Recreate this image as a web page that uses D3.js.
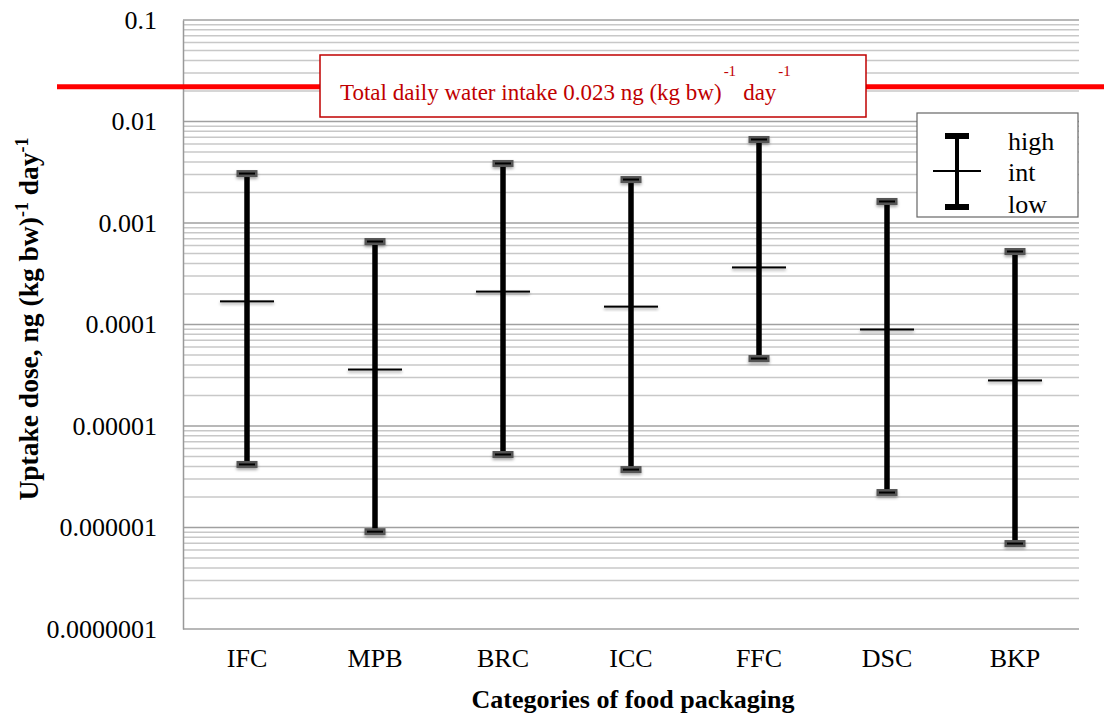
<!DOCTYPE html>
<html><head><meta charset="utf-8">
<script src="https://cdn.jsdelivr.net/npm/d3@7"></script>
<style>body{margin:0;background:#fff}svg{font-family:"Liberation Serif","Times New Roman",serif}</style>
</head><body>
<svg id="c" width="1104" height="718"></svg>
<script>
const categories = ["IFC","MPB","BRC","ICC","FFC","DSC","BKP"];
const highValues = [0.00307,0.000657,0.00386,0.00268,0.00665,0.00163,0.000524];
const intValues  = [0.000169,0.000036,0.000211,0.000150,0.000365,0.0000893,0.0000281];
const lowValues  = [0.00000418,0.00000091,0.00000524,0.00000372,0.0000462,0.00000221,0.000000695];
const tickValues = [1e-7,1e-6,1e-5,1e-4,1e-3,1e-2,1e-1];
const tickLabels = ["0.0000001","0.000001","0.00001","0.0001","0.001","0.01","0.1"];
const referenceValue = 0.023;

const FS = 26;
const svg = d3.select("#c");
const L=183, R=1079, T=20, B=629;
const x = d3.scaleBand().domain(categories).range([L,R]);
const y = d3.scaleLog().domain([1e-7,0.1]).range([B,T]);

const defs = svg.append("defs");
const f = defs.append("filter").attr("id","sh").attr("x","-50%").attr("y","-200%").attr("width","200%").attr("height","500%");
f.append("feDropShadow").attr("dx",0).attr("dy",2).attr("stdDeviation",1.5).attr("flood-color","#000").attr("flood-opacity",0.35);

// gridlines
const g = svg.append("g");
for (let e=-7; e<-1; e++) {
  for (let m=2; m<=9; m++) {
    const v = m*Math.pow(10,e);
    g.append("line").attr("x1",L).attr("x2",R).attr("y1",y(v)).attr("y2",y(v))
      .attr("stroke","#c8c8c8").attr("stroke-width",1.5);
  }
}
tickValues.forEach(v=>{
  g.append("line").attr("x1",L).attr("x2",R).attr("y1",y(v)).attr("y2",y(v))
    .attr("stroke","#a0a0a0").attr("stroke-width",1.5);
});
// left axis
const ya = svg.append("g").attr("transform",`translate(${L},0)`)
  .call(d3.axisLeft(y).tickValues(tickValues).tickFormat((d,i)=>tickLabels[i]).tickSize(0).tickPadding(26));
ya.attr("font-family",null).attr("font-size",FS);
ya.select(".domain").attr("stroke","#999").attr("stroke-width",1.5);
ya.selectAll("text").attr("fill","#000");

// x axis labels
const xa = svg.append("g").attr("transform",`translate(0,${B})`)
  .call(d3.axisBottom(x).tickSize(0).tickPadding(20));
xa.attr("font-family",null).attr("font-size",FS);
xa.select(".domain").remove();
xa.selectAll("text").attr("fill","#000");

// error bars
const cx = d=>x(d)+x.bandwidth()/2;
const bars = svg.append("g").selectAll("g").data(categories).join("g");
bars.append("line")
  .attr("x1",cx).attr("x2",cx)
  .attr("y1",(d,i)=>y(highValues[i])).attr("y2",(d,i)=>y(lowValues[i]))
  .attr("stroke","#000").attr("stroke-width",5.5);
[highValues,lowValues].forEach(arr=>{
  bars.append("rect")
    .attr("x",d=>cx(d)-10.5).attr("y",(d,i)=>y(arr[i])-3.5)
    .attr("width",21).attr("height",7).attr("fill","#555").attr("filter","url(#sh)");
  bars.append("line")
    .attr("x1",d=>cx(d)-8).attr("x2",d=>cx(d)+8)
    .attr("y1",(d,i)=>y(arr[i])).attr("y2",(d,i)=>y(arr[i]))
    .attr("stroke","#000").attr("stroke-width",2);
});
bars.append("rect")
  .attr("x",d=>cx(d)-27).attr("width",54)
  .attr("y",(d,i)=>y(intValues[i])-1).attr("height",2)
  .attr("fill","#000").attr("filter","url(#sh)");

// reference line
const ry = y(referenceValue)+2;
svg.append("line").attr("x1",57).attr("x2",1104).attr("y1",ry).attr("y2",ry)
  .attr("stroke","#ff0000").attr("stroke-width",5);
svg.append("rect").attr("x",320).attr("y",55).attr("width",546).attr("height",62)
  .attr("fill","#fff").attr("stroke","#c00000").attr("stroke-width",1.5);
const rt = svg.append("text").attr("x",340).attr("y",100).attr("font-size",23).attr("fill","#c00000");
rt.append("tspan").text("Total daily water intake 0.023 ng (kg bw)");
rt.append("tspan").attr("dy",-24).attr("dx",2).attr("font-size",15).text("-1");
rt.append("tspan").attr("dy",24).attr("dx",7).text("day");
rt.append("tspan").attr("dy",-24).attr("dx",2).attr("font-size",15).text("-1");

// legend
svg.append("rect").attr("x",917).attr("y",113).attr("width",161).attr("height",104)
  .attr("fill","#fff").attr("stroke","#666").attr("stroke-width",1.2);
const lx = 957;
svg.append("line").attr("x1",lx).attr("x2",lx).attr("y1",136).attr("y2",207).attr("stroke","#000").attr("stroke-width",4);
svg.append("rect").attr("x",lx-12).attr("y",133).attr("width",24).attr("height",6).attr("fill","#000");
svg.append("rect").attr("x",lx-12).attr("y",204).attr("width",24).attr("height",6).attr("fill","#000");
svg.append("line").attr("x1",lx-24).attr("x2",lx+24).attr("y1",171).attr("y2",171).attr("stroke","#000").attr("stroke-width",2);
[["high",150],["int",181],["low",213]].forEach(([t,yy])=>{
  svg.append("text").attr("x",1008).attr("y",yy).attr("font-size",FS).attr("fill","#000").text(t);
});

// axis titles
svg.append("text").attr("x",633).attr("y",708).attr("text-anchor","middle")
  .attr("font-size",FS).attr("font-weight","bold").text("Categories of food packaging");
const yt = svg.append("text").attr("transform","translate(38,319) rotate(-90)").attr("text-anchor","middle")
  .attr("font-size",27.5).attr("font-weight","bold");
yt.append("tspan").text("Uptake dose, ng (kg bw)");
yt.append("tspan").attr("dy",-10).attr("font-size",18).text("-1");
yt.append("tspan").attr("dy",10).text(" day");
yt.append("tspan").attr("dy",-10).attr("font-size",18).text("-1");
</script>
</body></html>
